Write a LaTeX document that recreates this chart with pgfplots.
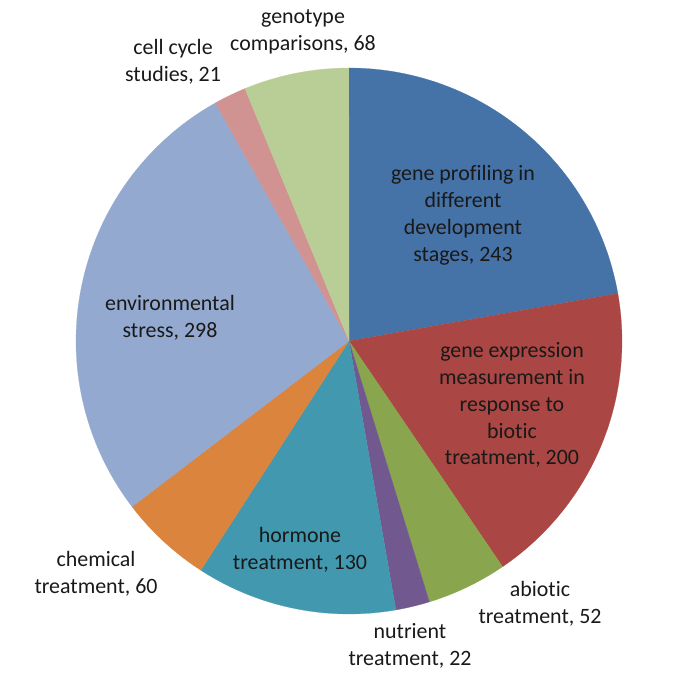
\documentclass[border=0pt]{standalone}
\usepackage{pgfplots}
\pgfplotsset{compat=1.18}
\usepackage{fontspec}
\setmainfont{Carlito}[Ligatures=NoCommon]
\definecolor{cA}{HTML}{4572A7}
\definecolor{cB}{HTML}{AA4643}
\definecolor{cC}{HTML}{89A54E}
\definecolor{cD}{HTML}{71588F}
\definecolor{cE}{HTML}{4198AF}
\definecolor{cF}{HTML}{DB843D}
\definecolor{cG}{HTML}{93A9CF}
\definecolor{cH}{HTML}{D19392}
\definecolor{cI}{HTML}{B9CD96}
% counts
\def\total{1094}
\pgfmathsetmacro\aA{90}
\pgfmathsetmacro\aB{\aA-243/\total*360}
\pgfmathsetmacro\aC{\aB-200/\total*360}
\pgfmathsetmacro\aD{\aC-52/\total*360}
\pgfmathsetmacro\aE{\aD-22/\total*360}
\pgfmathsetmacro\aF{\aE-130/\total*360}
\pgfmathsetmacro\aG{\aF-60/\total*360}
\pgfmathsetmacro\aH{\aG-298/\total*360}
\pgfmathsetmacro\aI{\aH-21/\total*360}
\pgfmathsetmacro\aJ{\aI-68/\total*360}
\newcommand\wedgeplot[3]{%
  \addplot[fill=#1, draw=#1, line width=0.2pt, domain=#3:#2, samples=90]
    ({349+273*cos(x)},{353+273*sin(x)}) -- (axis cs:349,353) -- cycle;}
\tikzset{lbl/.style={align=center, text=black!90, font=\fontsize{22}{27}\selectfont}}
\begin{document}
\begin{tikzpicture}
\begin{axis}[width=685bp, height=694bp, scale only axis,
  xmin=0, xmax=685, ymin=0, ymax=694, axis lines=none, clip=false]
\wedgeplot{cA}{\aA}{\aB}
\wedgeplot{cB}{\aB}{\aC}
\wedgeplot{cC}{\aC}{\aD}
\wedgeplot{cD}{\aD}{\aE}
\wedgeplot{cE}{\aE}{\aF}
\wedgeplot{cF}{\aF}{\aG}
\wedgeplot{cG}{\aG}{\aH}
\wedgeplot{cH}{\aH}{\aI}
\wedgeplot{cI}{\aI}{\aJ}
\node[lbl] at (axis cs:303,662) {genotype\\comparisons, 68};
\node[lbl] at (axis cs:173,632) {cell cycle\\studies, 21};
\node[lbl] at (axis cs:463,478.5) {gene profiling in\\different\\development\\stages, 243};
\node[lbl] at (axis cs:512,289) {gene expression\\measurement in\\response to\\biotic\\treatment, 200};
\node[lbl] at (axis cs:170,376) {environmental\\stress, 298};
\node[lbl] at (axis cs:96,120.5) {chemical\\treatment, 60};
\node[lbl] at (axis cs:300,144.5) {hormone\\treatment, 130};
\node[lbl] at (axis cs:540,90.5) {abiotic\\treatment, 52};
\node[lbl] at (axis cs:410,48) {nutrient\\treatment, 22};
\end{axis}
\pgfresetboundingbox
\path (current axis.south west) rectangle (current axis.north east);
\end{tikzpicture}
\end{document}
